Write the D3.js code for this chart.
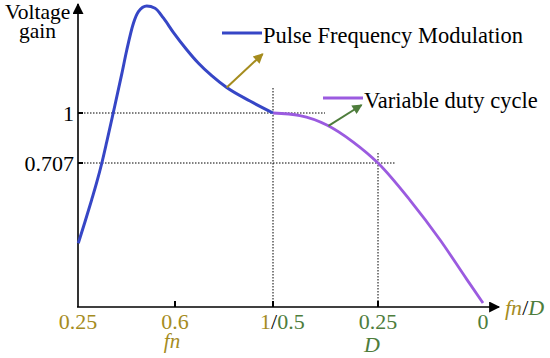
<!DOCTYPE html>
<html>
<head>
<meta charset="utf-8">
<script src="https://cdn.jsdelivr.net/npm/d3@7"></script>
<style>
  html, body { margin: 0; padding: 0; background: #fff; }
</style>
</head>
<body>
<div id="chart"></div>
<script>
// Tick values
const fnTicks = [0.25, 0.6, 1];
const dTicks = [0.5, 0.25, 0];
const gainTicks = [0.707, 1];

// Pulse frequency modulation: gain vs normalised frequency fn
const pfmFn   = [0.251, 0.275, 0.299, 0.317, 0.336, 0.354, 0.377, 0.408, 0.426, 0.450, 0.468, 0.498, 0.528, 0.558, 0.594, 0.648, 0.695, 0.751, 0.811, 0.906, 1.0];
const pfmGain = [0.313, 0.417, 0.525, 0.609, 0.707, 0.833, 1.0, 1.229, 1.369, 1.526, 1.594, 1.627, 1.614, 1.557, 1.473, 1.371, 1.293, 1.217, 1.149, 1.070, 1.0];

// Variable duty cycle: gain vs duty D
const vdcD    = [0.5, 0.436, 0.372, 0.309, 0.25, 0.174, 0.102, 0.039, 0.0];
const vdcGain = [1.0, 0.985, 0.930, 0.830, 0.707, 0.525, 0.329, 0.137, 0.02];

// Colours
const colors = {
  pfm: '#3646c6',
  vdc: '#9b5be0',
  fn: '#a58c1e',
  d: '#4e7d3c'
};

const FONT = '"Liberation Serif", "DejaVu Serif", serif';
const width = 550, height = 358;

const svg = d3.select('#chart').append('svg')
  .attr('width', width)
  .attr('height', height)
  .attr('font-family', FONT)
  .style('font-family', FONT);

// piecewise scales, the drawing is a schematic
const xFn = d3.scaleLinear().domain([0.25, 0.6, 1]).range([78, 175, 273]);
const xD = d3.scaleLinear().domain([0.5, 0.25, 0]).range([273, 378, 483]);
const y = d3.scaleLinear().domain([0, 0.707, 1]).range([307, 163, 113]);

const x0 = xFn(0.25), y0 = y(0);

// arrow markers
const defs = svg.append('defs');
function marker(id, color, w, h) {
  defs.append('marker')
    .attr('id', id)
    .attr('viewBox', '0 0 10 10')
    .attr('refX', 9).attr('refY', 5)
    .attr('markerUnits', 'userSpaceOnUse')
    .attr('markerWidth', w).attr('markerHeight', h)
    .attr('orient', 'auto')
    .append('path')
      .attr('d', 'M0,0 L10,5 L0,10 Z')
      .attr('fill', color);
}
marker('axisHead', '#000', 14, 11);
marker('goldHead', colors.fn, 12, 10);
marker('greenHead', colors.d, 12, 10);

// dotted guide lines
const guides = svg.append('g')
  .attr('stroke', '#000')
  .attr('stroke-width', 1)
  .attr('stroke-dasharray', '1.5,1.5');

guides.append('line')
  .attr('x1', x0).attr('x2', 325)
  .attr('y1', y(1)).attr('y2', y(1));
guides.append('line')
  .attr('x1', x0).attr('x2', 395)
  .attr('y1', y(0.707)).attr('y2', y(0.707));
guides.append('line')
  .attr('x1', xFn(1)).attr('x2', xFn(1))
  .attr('y1', 88).attr('y2', y0);
guides.append('line')
  .attr('x1', xD(0.25)).attr('x2', xD(0.25))
  .attr('y1', 153).attr('y2', y0);

// axes
svg.append('line')
  .attr('x1', x0).attr('y1', y0)
  .attr('x2', x0).attr('y2', 4)
  .attr('stroke', '#000').attr('stroke-width', 1.6)
  .attr('marker-end', 'url(#axisHead)');
svg.append('line')
  .attr('x1', x0 - 1).attr('y1', y0)
  .attr('x2', 499).attr('y2', y0)
  .attr('stroke', '#000').attr('stroke-width', 1.6)
  .attr('marker-end', 'url(#axisHead)');

// tick marks
const tickXs = [xFn(0.6), xFn(1), xD(0.25)];
svg.selectAll('.xtick').data(tickXs).enter().append('line')
  .attr('x1', d => d).attr('x2', d => d)
  .attr('y1', y0).attr('y2', y0 - 6)
  .attr('stroke', '#000').attr('stroke-width', 2);
svg.selectAll('.ytick').data(gainTicks).enter().append('line')
  .attr('x1', x0).attr('x2', x0 + 5)
  .attr('y1', d => y(d)).attr('y2', d => y(d))
  .attr('stroke', '#000').attr('stroke-width', 2);

// curves
const pfmLine = d3.line()
  .x(d => xFn(d[0])).y(d => y(d[1]))
  .curve(d3.curveMonotoneX);
const vdcLine = d3.line()
  .x(d => xD(d[0])).y(d => y(d[1]))
  .curve(d3.curveMonotoneX);

svg.append('path')
  .attr('d', vdcLine(d3.zip(vdcD, vdcGain)))
  .attr('fill', 'none').attr('stroke', colors.vdc).attr('stroke-width', 2.8);
svg.append('path')
  .attr('d', pfmLine(d3.zip(pfmFn, pfmGain)))
  .attr('fill', 'none').attr('stroke', colors.pfm).attr('stroke-width', 3);

// annotation arrows pointing at the legend
svg.append('line')
  .attr('x1', xFn(0.811)).attr('y1', y(1.149))
  .attr('x2', xFn(0.958)).attr('y2', y(1.346))
  .attr('stroke', colors.fn).attr('stroke-width', 2)
  .attr('marker-end', 'url(#goldHead)');
svg.append('line')
  .attr('x1', xD(0.368)).attr('y1', y(0.925))
  .attr('x2', xD(0.289)).attr('y2', y(1.047))
  .attr('stroke', colors.d).attr('stroke-width', 2)
  .attr('marker-end', 'url(#greenHead)');

// legend
const legend = [
  { label: 'Pulse Frequency Modulation', color: colors.pfm, x: 222, y: 33 },
  { label: 'Variable duty cycle', color: colors.vdc, x: 323, y: 98 }
];
legend.forEach(l => {
  svg.append('line')
    .attr('x1', l.x).attr('x2', l.x + 40)
    .attr('y1', l.y).attr('y2', l.y)
    .attr('stroke', l.color).attr('stroke-width', 3);
  svg.append('text')
    .attr('x', l.x + 41).attr('y', l.y + 10)
    .attr('font-size', 22.5)
    .attr('fill', '#000')
    .text(l.label);
});

// y labels
svg.selectAll('.ylab').data(gainTicks).enter().append('text')
  .attr('x', x0 - 4).attr('y', d => y(d) + 8)
  .attr('text-anchor', 'end')
  .attr('font-size', 22)
  .text(d => String(d));

svg.append('text').attr('x', 5).attr('y', 19).attr('font-size', 21.5).text('Voltage');
svg.append('text').attr('x', 19).attr('y', 38).attr('font-size', 21.5).text('gain');

// x labels
const labY = y0 + 22;
svg.append('text').attr('x', xFn(0.25)).attr('y', labY)
  .attr('text-anchor', 'middle').attr('font-size', 22).attr('fill', colors.fn).text(fnTicks[0]);
svg.append('text').attr('x', xFn(0.6)).attr('y', labY)
  .attr('text-anchor', 'middle').attr('font-size', 22).attr('fill', colors.fn).text(fnTicks[1]);

const mid = svg.append('text').attr('x', xFn(1) - 13).attr('y', labY).attr('font-size', 22);
mid.append('tspan').attr('fill', colors.fn).text(fnTicks[2]);
mid.append('tspan').attr('fill', '#000').text('/');
mid.append('tspan').attr('fill', colors.d).text(dTicks[0]);

svg.append('text').attr('x', xD(0.25)).attr('y', labY)
  .attr('text-anchor', 'middle').attr('font-size', 22).attr('fill', colors.d).text(dTicks[1]);
svg.append('text').attr('x', xD(0)).attr('y', labY)
  .attr('text-anchor', 'middle').attr('font-size', 22).attr('fill', colors.d).text(dTicks[2]);

// variable names under the ticks
svg.append('text').attr('x', xFn(0.6) - 3).attr('y', 348)
  .attr('text-anchor', 'middle').attr('font-size', 21)
  .attr('font-style', 'italic').attr('fill', colors.fn).text('fn');
svg.append('text').attr('x', xD(0.25) - 6).attr('y', 352)
  .attr('text-anchor', 'middle').attr('font-size', 22)
  .attr('font-style', 'italic').attr('fill', colors.d).text('D');

// axis title
const ax = svg.append('text').attr('x', 505).attr('y', 315).attr('font-size', 22);
ax.append('tspan').attr('font-style', 'italic').attr('fill', colors.fn).text('fn');
ax.append('tspan').attr('fill', '#000').text('/');
ax.append('tspan').attr('font-style', 'italic').attr('fill', colors.d).text('D');
</script>
</body>
</html>
